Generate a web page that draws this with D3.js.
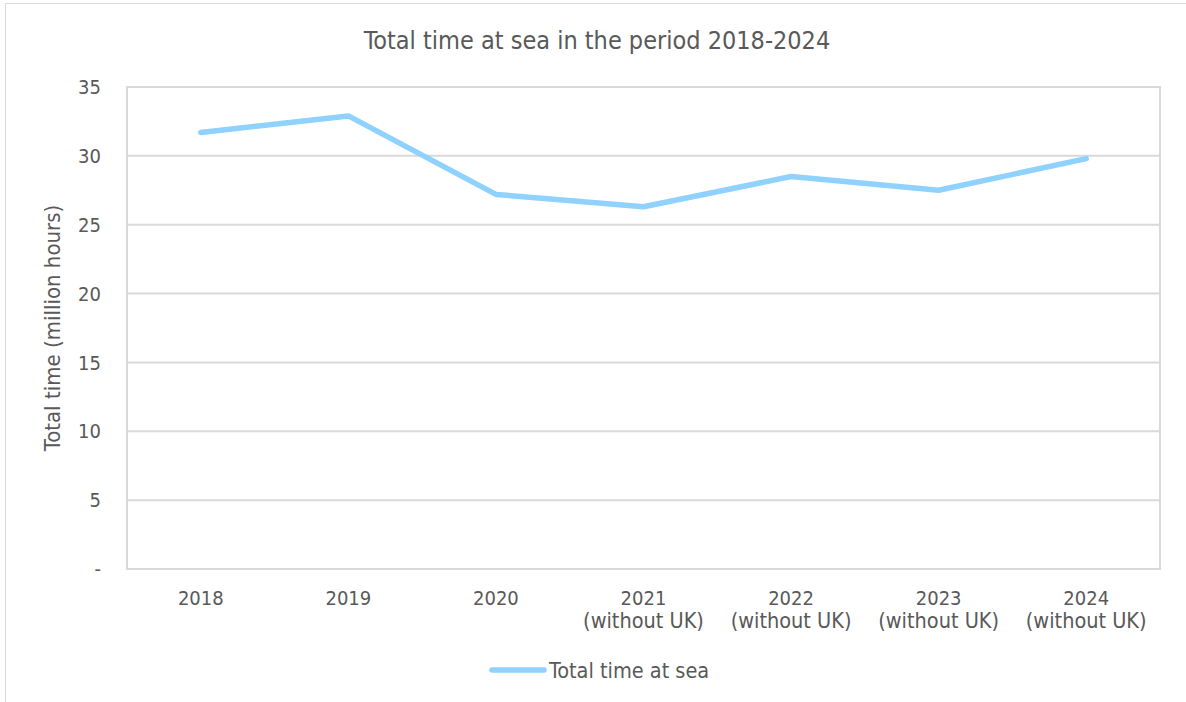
<!DOCTYPE html>
<html>
<head>
<meta charset="utf-8">
<script src="https://cdn.jsdelivr.net/npm/d3@7"></script>
<style>
  html, body { margin: 0; padding: 0; background: #ffffff; }
  svg { display: block; }
  text { font-family: "DejaVu Sans Condensed", "DejaVu Sans", sans-serif; fill: #595959; }
</style>
</head>
<body>
<svg id="chart" width="1186" height="702"></svg>
<script>
// Years on the category axis (second line shown under the year)
const years = ["2018", "2019", "2020", "2021", "2022", "2023", "2024"];
const yearNotes = ["", "", "", "(without UK)", "(without UK)", "(without UK)", "(without UK)"];
// Total time at sea, million hours
const timeAtSea = [31.7, 32.9, 27.2, 26.3, 28.5, 27.5, 29.8];
// Value-axis ticks
const yTicks = [0, 5, 10, 15, 20, 25, 30, 35];

const title = "Total time at sea in the period 2018-2024";
const yTitle = "Total time (million hours)";
const seriesName = "Total time at sea";

const W = 1186, H = 702;
const margin = { left: 127, right: 26, top: 87, bottom: 133 };
const lineColor = "#8fd1ff";
const gridColor = "#d9d9d9";

const svg = d3.select("#chart");

// outer chart frame
svg.append("rect")
  .attr("x", 5.5).attr("y", 3.5)
  .attr("width", W + 10).attr("height", H + 10)
  .attr("fill", "#fff").attr("stroke", gridColor).attr("stroke-width", 1);

const x = d3.scaleBand()
  .domain(years)
  .range([margin.left, W - margin.right])
  .padding(0);

const y = d3.scaleLinear()
  .domain([0, 35])
  .range([H - margin.bottom, margin.top]);

// horizontal gridlines
svg.append("g")
  .selectAll("line")
  .data(yTicks)
  .join("line")
  .attr("x1", margin.left).attr("x2", W - margin.right)
  .attr("y1", d => y(d)).attr("y2", d => y(d))
  .attr("stroke", gridColor).attr("stroke-width", 2);

// plot-area border
svg.append("rect")
  .attr("x", margin.left).attr("y", y(35))
  .attr("width", W - margin.right - margin.left)
  .attr("height", y(0) - y(35))
  .attr("fill", "none").attr("stroke", gridColor).attr("stroke-width", 2);

// value-axis labels
svg.append("g")
  .selectAll("text")
  .data(yTicks)
  .join("text")
  .attr("x", 101)
  .attr("y", d => y(d))
  .attr("dy", "0.36em")
  .attr("text-anchor", "end")
  .style("font-size", "20px")
  .text(d => d === 0 ? "-" : d);

// category-axis labels
const xl = svg.append("g")
  .selectAll("text")
  .data(years)
  .join("text")
  .attr("text-anchor", "middle");
xl.append("tspan")
  .attr("x", d => x(d) + x.bandwidth() / 2)
  .attr("y", 605)
  .style("font-size", "20px")
  .text(d => d);
xl.append("tspan")
  .attr("x", d => x(d) + x.bandwidth() / 2)
  .attr("y", 628)
  .style("font-size", "21.5px")
  .text((d, i) => yearNotes[i]);

// series line
const line = d3.line()
  .x((d, i) => x(years[i]) + x.bandwidth() / 2)
  .y(d => y(d));

svg.append("path")
  .datum(timeAtSea)
  .attr("d", line)
  .attr("fill", "none")
  .attr("stroke", lineColor)
  .attr("stroke-width", 5.5)
  .attr("stroke-linejoin", "round")
  .attr("stroke-linecap", "round");

// chart title
svg.append("text")
  .attr("x", 597).attr("y", 49)
  .attr("text-anchor", "middle")
  .style("font-size", "25px")
  .text(title);

// value-axis title
svg.append("text")
  .attr("transform", `translate(60, ${(y(0) + y(35)) / 2}) rotate(-90)`)
  .attr("text-anchor", "middle")
  .style("font-size", "22px")
  .text(yTitle);

// legend
svg.append("line")
  .attr("x1", 492).attr("x2", 544)
  .attr("y1", 670).attr("y2", 670)
  .attr("stroke", lineColor).attr("stroke-width", 5.5)
  .attr("stroke-linecap", "round");
svg.append("text")
  .attr("x", 549).attr("y", 677.5)
  .style("font-size", "21.5px")
  .text(seriesName);
</script>
</body>
</html>
